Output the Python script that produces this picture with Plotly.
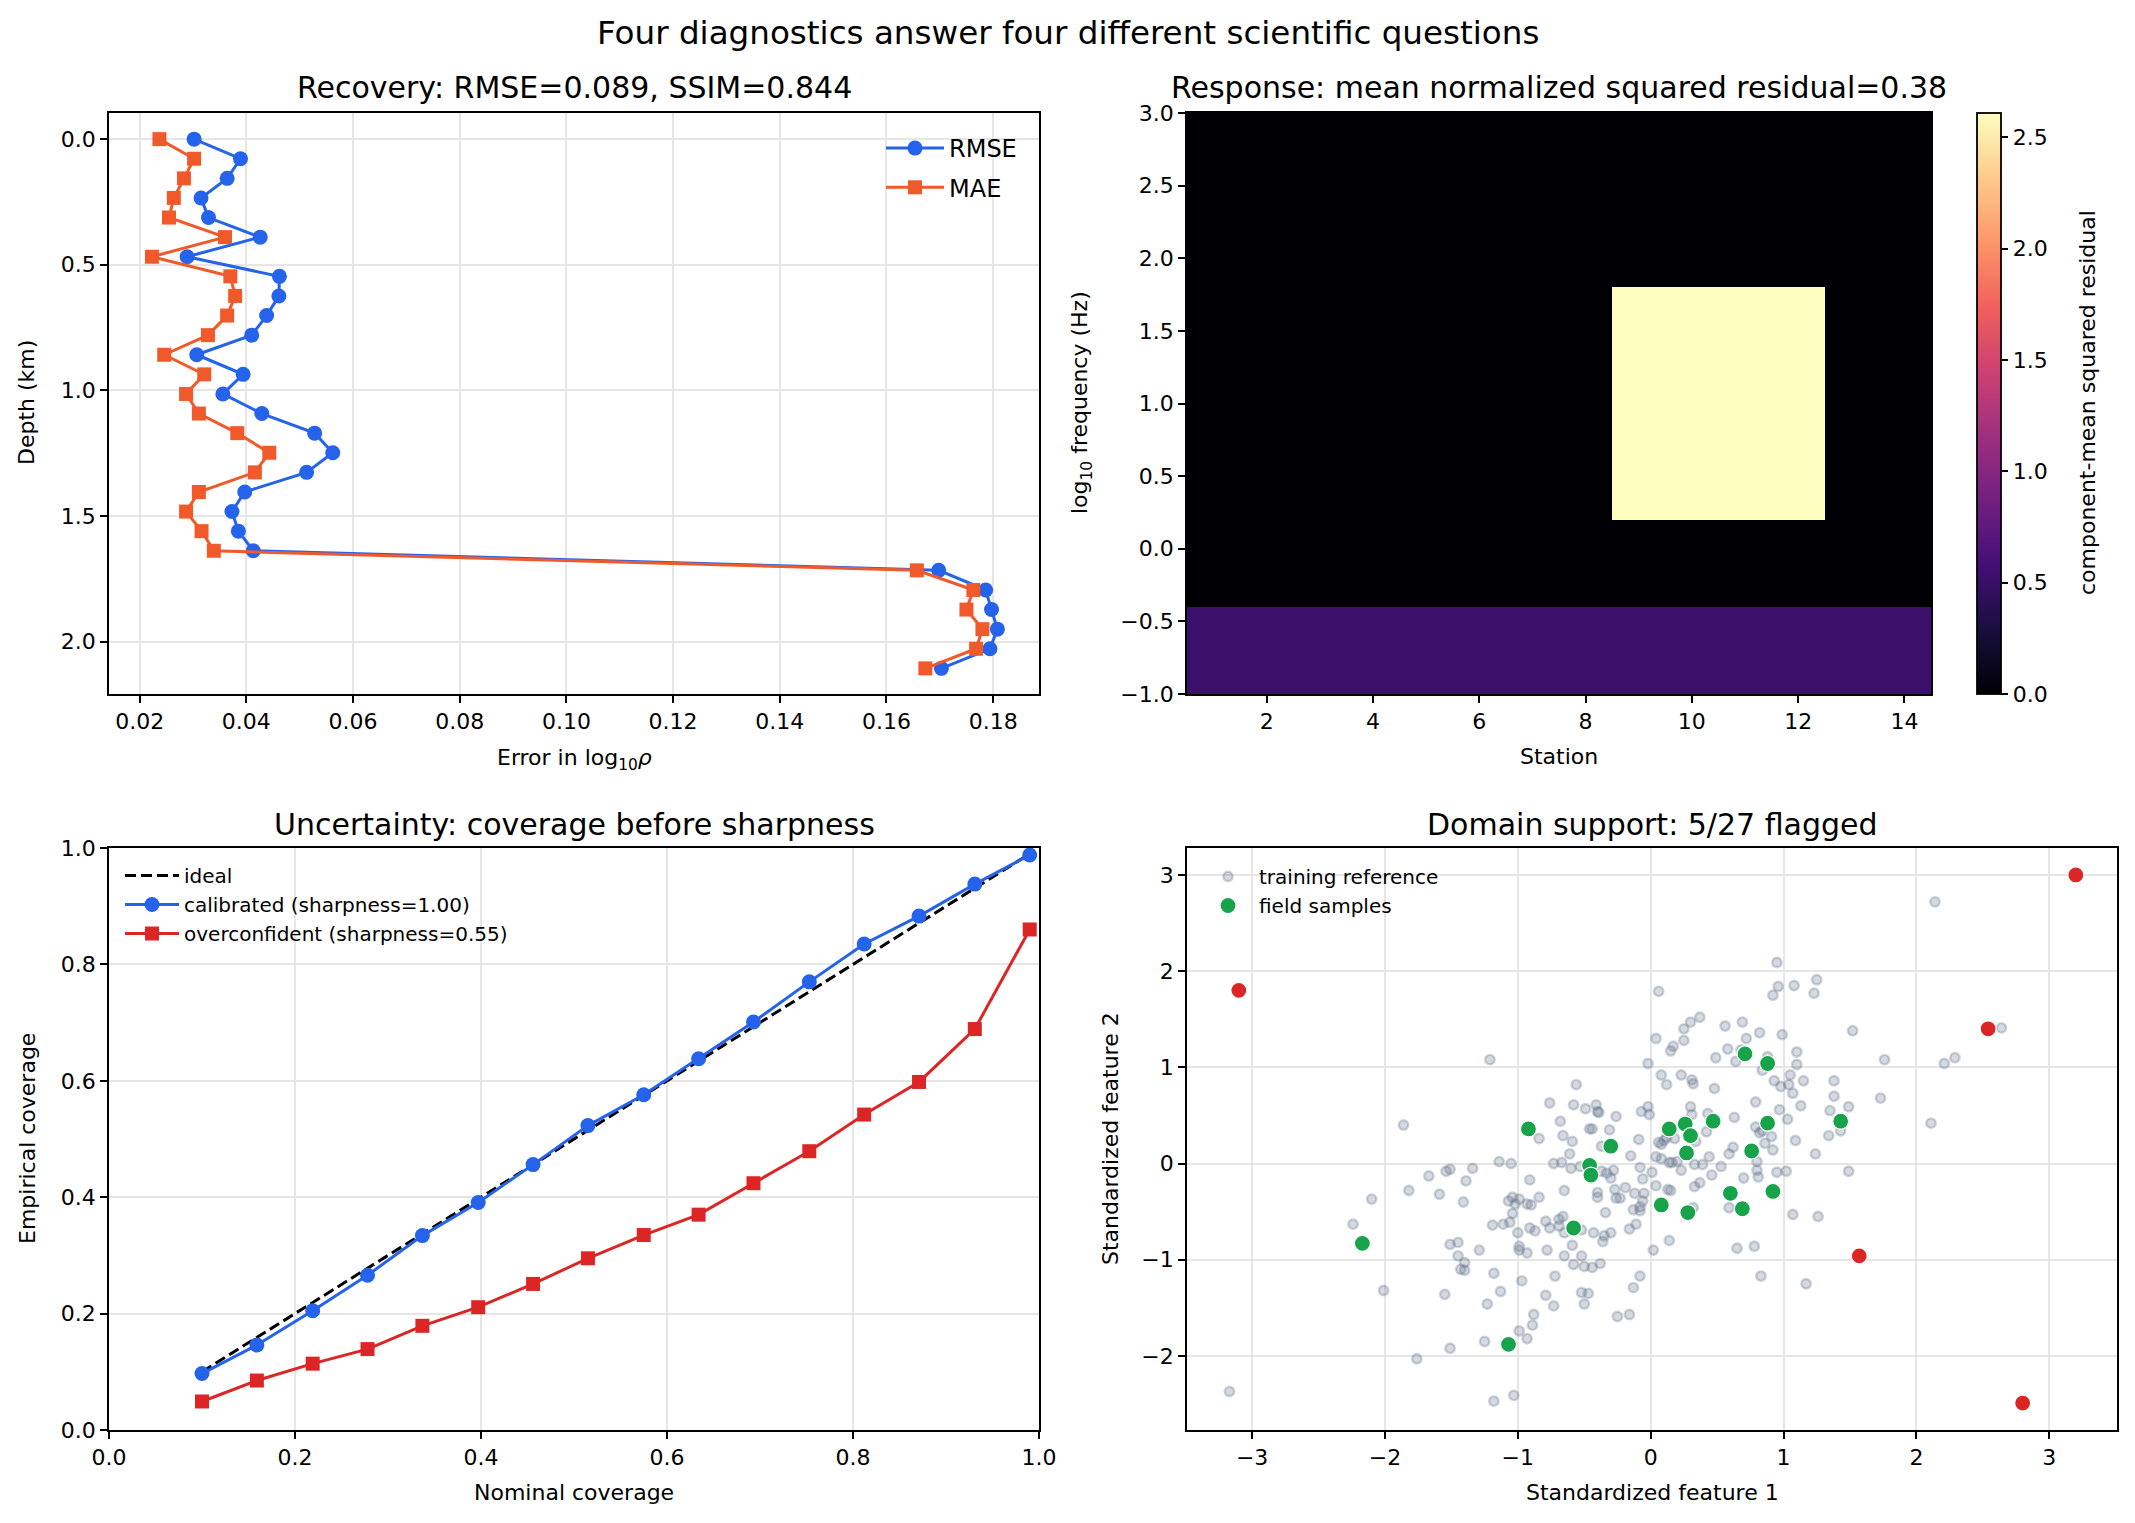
import plotly.graph_objects as go

W, H = 2135, 1523
PAGE_MARGIN = 8            # the browser body margin shifts the figure by 8 px
FW, FH = W - PAGE_MARGIN, H - PAGE_MARGIN
FONT = "DejaVu Sans"

# ---- Recovery: error profile vs depth
depth_km = [0.000, 0.078, 0.156, 0.234, 0.312, 0.390, 0.468, 0.546, 0.624, 0.702,
            0.780, 0.858, 0.936, 1.014, 1.092, 1.170, 1.248, 1.326, 1.404, 1.482,
            1.560, 1.638, 1.716, 1.794, 1.872, 1.950, 2.028, 2.106]
rmse = [0.0302, 0.0389, 0.0364, 0.0315, 0.0329, 0.0426, 0.0289, 0.0462, 0.0461, 0.0438,
        0.0410, 0.0307, 0.0394, 0.0356, 0.0429, 0.0528, 0.0562, 0.0513, 0.0397, 0.0373,
        0.0385, 0.0413, 0.1698, 0.1786, 0.1797, 0.1808, 0.1794, 0.1703]
mae = [0.0237, 0.0302, 0.0283, 0.0264, 0.0255, 0.0360, 0.0223, 0.0370, 0.0379, 0.0364,
       0.0328, 0.0246, 0.0321, 0.0287, 0.0311, 0.0383, 0.0443, 0.0416, 0.0311, 0.0287,
       0.0316, 0.0339, 0.1657, 0.1763, 0.1750, 0.1780, 0.1768, 0.1673]

# ---- Response: residual map (station x log10 frequency)
stations = list(range(1, 15))
log_freq = [-0.9, -0.7, -0.5, -0.3, -0.1, 0.1, 0.3, 0.5, 0.7, 0.9,
            1.1, 1.3, 1.5, 1.7, 1.9, 2.1, 2.3, 2.5, 2.7, 2.9]
background_level = 0.0
low_band_level = 0.52      # rows below -0.4
anomaly_level = 2.61       # stations 9-12, 0.2 < log f < 1.8
anomaly_stations = [9, 10, 11, 12]
anomaly_freqs = [0.3, 0.5, 0.7, 0.9, 1.1, 1.3, 1.5, 1.7]
low_band_freqs = [-0.9, -0.7, -0.5]

residual = []
for f in log_freq:
    row = []
    for s in stations:
        if f in low_band_freqs:
            row.append(low_band_level)
        elif f in anomaly_freqs and s in anomaly_stations:
            row.append(anomaly_level)
        else:
            row.append(background_level)
    residual.append(row)

# ---- Uncertainty: coverage curves
nominal = [0.100, 0.159, 0.219, 0.278, 0.337, 0.397, 0.456, 0.515,
           0.575, 0.634, 0.693, 0.753, 0.812, 0.871, 0.931, 0.990]
calibrated = [0.097, 0.146, 0.205, 0.266, 0.334, 0.391, 0.456, 0.523,
              0.576, 0.638, 0.701, 0.770, 0.835, 0.883, 0.938, 0.988]
overconfident = [0.049, 0.085, 0.114, 0.139, 0.179, 0.211, 0.251, 0.295,
                 0.335, 0.370, 0.424, 0.479, 0.542, 0.598, 0.689, 0.860]

# ---- Domain support: standardized features
reference_points = [
    (0.06, 1.79), (0.04, 1.30), (-1.21, 1.08), (-0.02, 1.04), (0.08, 0.92), (0.12, 0.82),
    (-0.56, 0.82), (-0.76, 0.63), (-0.58, 0.61), (-0.49, 0.57), (-0.41, 0.61), (-0.40, 0.54),
    (-0.39, 0.53), (-0.26, 0.49), (-0.07, 0.54), (-0.02, 0.59), (-0.01, 0.51), (-1.86, 0.40),
    (-0.68, 0.44), (-0.46, 0.36), (-0.44, 0.36), (-0.31, 0.35), (-0.84, 0.26), (-0.66, 0.29),
    (-0.59, 0.23), (-0.37, 0.18), (-0.09, 0.25), (0.08, 0.20), (0.06, 0.22), (0.10, 0.24),
    (0.12, 0.27), (-0.61, 0.10), (-0.15, 0.08), (0.04, 0.07), (0.08, 0.05), (0.14, 0.01),
    (-1.14, 0.02), (-1.05, 0.00), (-0.73, 0.00), (-0.67, 0.01), (-0.60, -0.05), (-0.53, -0.03),
    (-0.08, -0.04), (0.01, -0.09), (-0.28, -0.07), (-0.37, -0.08), (-0.33, -0.10), (-1.54, -0.08),
    (-1.51, -0.06), (-1.34, -0.05),
    (0.95, 2.09), (0.96, 1.84), (0.92, 1.75), (1.08, 1.85), (1.25, 1.91), (1.23, 1.77),
    (0.37, 1.52), (0.30, 1.47), (0.25, 1.40), (0.25, 1.28), (0.17, 1.22), (0.15, 1.17),
    (0.56, 1.43), (0.69, 1.47), (0.82, 1.36), (0.99, 1.34), (0.72, 1.30), (1.52, 1.38),
    (0.58, 1.19), (0.49, 1.10), (0.64, 1.06), (0.68, 1.18), (0.88, 1.11), (1.10, 1.16),
    (1.10, 1.03), (1.76, 1.08), (2.21, 1.04), (2.29, 1.10), (2.64, 1.41), (0.84, 0.97),
    (0.23, 0.92), (0.31, 0.87), (0.32, 0.83), (0.48, 0.78), (0.93, 0.86), (0.98, 0.80),
    (1.05, 0.92), (1.04, 0.82), (1.07, 0.73), (1.15, 0.86), (1.38, 0.86), (1.38, 0.70),
    (1.73, 0.68), (0.79, 0.64), (1.13, 0.60), (0.97, 0.56), (1.35, 0.55), (1.49, 0.59),
    (0.30, 0.59), (0.31, 0.51), (0.43, 0.52), (0.63, 0.48), (1.03, 0.46), (2.11, 0.42),
    (1.43, 0.34), (1.34, 0.29), (0.42, 0.33), (0.79, 0.38), (0.82, 0.32), (0.84, 0.34),
    (0.91, 0.28), (0.86, 0.21), (1.09, 0.24), (0.92, 0.14), (0.59, 0.10), (0.62, 0.17),
    (0.44, 0.07), (0.34, 0.23), (0.18, 0.26), (1.24, 0.10), (0.80, 0.02), (0.53, -0.03),
    (0.33, -0.01), (0.39, -0.01), (0.23, -0.07), (0.95, -0.09), (1.02, -0.08), (1.49, -0.08),
    (0.80, -0.07), (0.16, 0.01), (0.20, 0.02),
    (-1.67, -0.13), (-1.39, -0.18), (-0.91, -0.17), (-0.30, -0.15), (-0.06, -0.16), (-1.82, -0.28),
    (-1.59, -0.32), (-1.41, -0.40), (-2.10, -0.37), (-2.24, -0.63), (-0.65, -0.28), (-0.84, -0.35),
    (-1.07, -0.39), (-1.04, -0.35), (-0.99, -0.37), (-1.02, -0.42), (-0.93, -0.42), (-0.90, -0.43),
    (-1.04, -0.52), (-1.06, -0.61), (-1.11, -0.63), (-1.19, -0.64), (-1.00, -0.72), (-0.91, -0.67),
    (-0.87, -0.70), (-0.79, -0.60), (-0.76, -0.67), (-0.69, -0.58), (-0.66, -0.55), (-0.69, -0.65),
    (-0.65, -0.72), (-0.59, -0.85), (-0.52, -0.69), (-0.43, -0.72), (-0.36, -0.81), (-0.35, -0.75),
    (-0.30, -0.72), (-0.40, -0.30), (-0.40, -0.35), (-0.27, -0.27), (-0.26, -0.36), (-0.23, -0.36),
    (-0.19, -0.25), (-0.12, -0.31), (0.04, -0.23), (0.13, -0.27), (-0.05, -0.31), (-0.06, -0.39),
    (-0.13, -0.48), (-0.08, -0.49), (-0.08, -0.45), (-0.34, -0.51), (-0.11, -0.63), (-0.16, -0.68),
    (0.14, -0.80), (0.02, -0.90), (-1.51, -0.84), (-1.45, -0.82), (-1.29, -0.90), (-0.99, -0.86),
    (-0.99, -0.90), (-0.93, -0.93), (-0.78, -0.90), (-0.65, -0.96), (-0.58, -1.05), (-0.52, -0.96),
    (-0.50, -1.07), (-0.44, -1.08), (-0.38, -1.04), (-1.45, -0.96), (-1.40, -1.03), (-1.43, -1.10),
    (-1.40, -1.11), (-2.01, -1.32), (-1.55, -1.36), (-1.18, -1.14), (-1.13, -1.33), (-0.97, -1.22),
    (-1.23, -1.46), (-0.72, -1.17), (-0.79, -1.37), (-0.73, -1.48), (-0.52, -1.34), (-0.47, -1.35),
    (-0.50, -1.46), (-0.88, -1.57), (-0.89, -1.68), (-0.99, -1.74), (-0.93, -1.82), (-1.25, -1.85),
    (-1.51, -1.92), (-1.76, -2.03), (-1.18, -2.47), (-1.03, -2.41), (-0.25, -1.59), (-0.16, -1.57),
    (-0.13, -1.29), (-0.08, -1.17),
    (0.46, -0.12), (0.33, -0.24), (0.37, -0.20), (0.70, -0.15), (0.81, -0.14), (0.15, -0.28),
    (0.32, -0.46), (0.59, -0.46), (1.07, -0.53), (1.26, -0.55), (0.65, -0.88), (0.78, -0.86),
    (0.83, -1.17), (1.17, -1.25),
    (-3.17, -2.37), (2.14, 2.72),
]
field_points = [
    (-0.92, 0.36), (-0.30, 0.18), (-0.46, -0.02), (-0.45, -0.12), (-0.58, -0.67), (-2.17, -0.83),
    (-1.07, -1.88), (0.08, -0.43), (0.28, -0.51), (0.14, 0.36), (0.26, 0.41), (0.30, 0.29),
    (0.27, 0.11), (0.47, 0.44), (0.71, 1.14), (0.88, 1.04), (0.88, 0.42), (0.76, 0.13),
    (0.60, -0.31), (0.69, -0.47), (0.92, -0.29), (1.43, 0.44),
]
flagged_points = [(3.20, 3.00), (-3.10, 1.80), (2.54, 1.40), (1.57, -0.96), (2.80, -2.49)]

BLUE = "#2563eb"
ORANGE = "#f05a2a"
RED = "#dc2626"
GREEN = "#16a34a"
GRID = "#e6e6e6"


def px_x(p):
    return (p - PAGE_MARGIN) / FW


def px_y(p):
    return 1 - (p - PAGE_MARGIN) / FH


# axis placement in window pixels (left, right, top, bottom)
boxes = {
    "1": (109, 1039, 113, 694),
    "2": (1187, 1931, 113, 694),
    "3": (109, 1039, 848, 1430),
    "4": (1187, 2117, 848, 1430),
}

fig = go.Figure()

fig.add_trace(go.Scatter(x=rmse, y=depth_km, mode="lines+markers", name="RMSE", legendgroup="a",
                         line=dict(color=BLUE, width=3), marker=dict(symbol="circle", size=15, color=BLUE),
                         xaxis="x", yaxis="y", legend="legend"))
fig.add_trace(go.Scatter(x=mae, y=depth_km, mode="lines+markers", name="MAE", legendgroup="b",
                         line=dict(color=ORANGE, width=3), marker=dict(symbol="square", size=14, color=ORANGE),
                         xaxis="x", yaxis="y", legend="legend"))

fig.add_trace(go.Heatmap(z=residual, x=stations, y=log_freq, colorscale="magma",
                         zmin=0, zmax=anomaly_level, xaxis="x2", yaxis="y2",
                         colorbar=dict(x=px_x(1977), xanchor="left", thickness=24, len=(694 - 113) / FH,
                                       y=px_y(694), yanchor="bottom", ypad=0, xpad=0,
                                       outlinewidth=1.8, outlinecolor="black",
                                       ticks="outside", ticklen=7, tickwidth=1.8, tickcolor="black",
                                       tickvals=[0, 0.5, 1.0, 1.5, 2.0, 2.5], tickformat=".1f",
                                       tickfont=dict(size=22, color="black", family=FONT))))

fig.add_trace(go.Scatter(x=nominal, y=nominal, mode="lines", name="ideal",
                         line=dict(color="black", width=3, dash="11px,5px"),
                         xaxis="x3", yaxis="y3", legend="legend2"))
fig.add_trace(go.Scatter(x=nominal, y=calibrated, mode="lines+markers", name="calibrated (sharpness=1.00)",
                         line=dict(color=BLUE, width=3), marker=dict(symbol="circle", size=15, color=BLUE),
                         xaxis="x3", yaxis="y3", legend="legend2"))
fig.add_trace(go.Scatter(x=nominal, y=overconfident, mode="lines+markers",
                         name="overconfident (sharpness=0.55)",
                         line=dict(color=RED, width=3), marker=dict(symbol="square", size=14, color=RED),
                         xaxis="x3", yaxis="y3", legend="legend2"))

fig.add_trace(go.Scatter(x=[p[0] for p in reference_points], y=[p[1] for p in reference_points],
                         mode="markers", name="training reference",
                         marker=dict(size=9.5, color="rgba(100,116,139,0.27)",
                                     line=dict(color="rgba(100,116,139,0.30)", width=2.4)),
                         xaxis="x4", yaxis="y4", legend="legend3"))
fig.add_trace(go.Scatter(x=[p[0] for p in field_points], y=[p[1] for p in field_points],
                         mode="markers", name="field samples",
                         marker=dict(size=16, color=GREEN, line=dict(color="white", width=1.2)),
                         xaxis="x4", yaxis="y4", legend="legend3"))
fig.add_trace(go.Scatter(x=[p[0] for p in flagged_points], y=[p[1] for p in flagged_points],
                         mode="markers", name="flagged", showlegend=False,
                         marker=dict(size=16, color=RED, line=dict(color="white", width=1.2)),
                         xaxis="x4", yaxis="y4"))


def axis(key, rng, tickvals, fmt, grid=True):
    l, r, t, b = boxes[key]
    common = dict(showline=True, linecolor="black", linewidth=1.8, mirror=True,
                  ticks="outside", ticklen=7, tickwidth=1.8, tickcolor="black",
                  showgrid=grid, gridcolor=GRID, gridwidth=1.8, zeroline=False, automargin=False,
                  tickfont=dict(size=22, color="black", family=FONT))
    xa = dict(common, domain=[px_x(l), px_x(r)], range=rng[0], tickvals=tickvals[0],
              tickformat=fmt[0], anchor="y" + (key if key != "1" else ""))
    ya = dict(common, domain=[px_y(b), px_y(t)], range=rng[1], tickvals=tickvals[1],
              tickformat=fmt[1], anchor="x" + (key if key != "1" else ""))
    return xa, ya


x1, y1 = axis("1", ([0.01425, 0.1886], [2.208, -0.104]),
              ([0.02, 0.04, 0.06, 0.08, 0.10, 0.12, 0.14, 0.16, 0.18], [0.0, 0.5, 1.0, 1.5, 2.0]),
              (".2f", ".1f"))
x2, y2 = axis("2", ([0.5, 14.5], [-1, 3]),
              ([2, 4, 6, 8, 10, 12, 14], [-1.0, -0.5, 0.0, 0.5, 1.0, 1.5, 2.0, 2.5, 3.0]),
              ("d", ".1f"), grid=False)
x3, y3 = axis("3", ([0, 1], [0, 1]),
              ([0, 0.2, 0.4, 0.6, 0.8, 1.0], [0, 0.2, 0.4, 0.6, 0.8, 1.0]), (".1f", ".1f"))
x4, y4 = axis("4", ([-3.49, 3.51], [-2.77, 3.28]),
              ([-3, -2, -1, 0, 1, 2, 3], [-2, -1, 0, 1, 2, 3]), ("d", "d"))


def label(text, x, y, size=22, angle=0):
    return dict(text=text, x=px_x(x), y=px_y(y), xref="paper", yref="paper", showarrow=False,
                xanchor="center", yanchor="middle", textangle=angle,
                font=dict(size=size, color="black", family=FONT))


annotations = [
    label("Four diagnostics answer four different scientific questions", 1068, 33, size=32.6),
    label("Recovery: RMSE=0.089, SSIM=0.844", 574, 88, size=30),
    label("Response: mean normalized squared residual=0.38", 1559, 88, size=30),
    label("Uncertainty: coverage before sharpness", 574, 824, size=30),
    label("Domain support: 5/27 flagged", 1652, 824, size=30),
    label("Error in log<sub>10</sub><i>ρ</i>", 574, 760),
    label("Depth (km)", 27, 403, angle=-90),
    label("Station", 1559, 757),
    label("log<sub>10</sub> frequency (Hz)", 1082, 403, angle=-90),
    label("component-mean squared residual", 2088, 403, angle=-90),
    label("Nominal coverage", 574, 1492),
    label("Empirical coverage", 27, 1139, angle=-90),
    label("Standardized feature 1", 1652, 1492),
    label("Standardized feature 2", 1110, 1139, angle=-90),
]

fig.update_layout(
    width=FW, height=FH, margin=dict(l=0, r=0, t=0, b=0, autoexpand=False),
    paper_bgcolor="white", plot_bgcolor="white",
    font=dict(family=FONT, color="black"),
    xaxis=x1, yaxis=y1, xaxis2=x2, yaxis2=y2, xaxis3=x3, yaxis3=y3, xaxis4=x4, yaxis4=y4,
    annotations=annotations,
    legend=dict(x=px_x(1022), y=px_y(126), xanchor="right", yanchor="top",
                bgcolor="rgba(0,0,0,0)", font=dict(size=24, family=FONT), itemwidth=58,
                tracegroupgap=5),
    legend2=dict(x=px_x(120), y=px_y(856), xanchor="left", yanchor="top",
                 bgcolor="rgba(0,0,0,0)", font=dict(size=20, family=FONT), itemwidth=54),
    legend3=dict(x=px_x(1197), y=px_y(857), xanchor="left", yanchor="top",
                 bgcolor="rgba(0,0,0,0)", font=dict(size=20, family=FONT), itemwidth=52),
)

fig.write_html("out.html")
